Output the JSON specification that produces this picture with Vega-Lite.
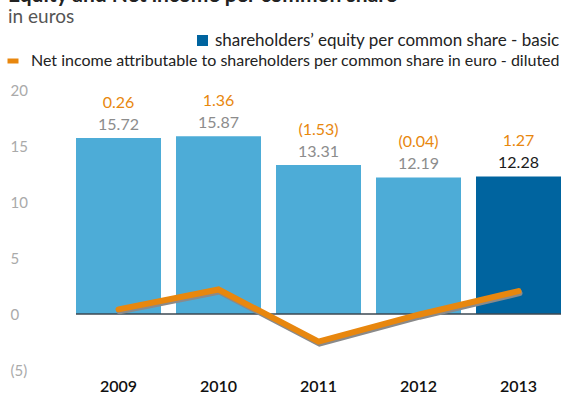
{
  "$schema": "https://vega.github.io/schema/vega-lite/v6.json",
  "width": 485,
  "height": 280,
  "autosize": {"type": "none"},
  "padding": {"left": 76, "top": 90, "right": 2, "bottom": 36},
  "background": "white",
  "config": {"font": "Lato", "view": {"stroke": null}},
  "title": {
    "text": "Equity and Net income per common share",
    "subtitle": "in euros",
    "anchor": "start",
    "frame": "group",
    "dx": -68,
    "offset": 5,
    "fontSize": 21,
    "fontWeight": "bold",
    "color": "#222222",
    "font": "Lato",
    "subtitleFont": "Lato",
    "subtitleFontSize": 19,
    "subtitleColor": "#555555",
    "subtitlePadding": 2
  },
  "data": {
    "values": [
      {"year": 2009, "eq": 15.72, "ni": 0.26},
      {"year": 2010, "eq": 15.87, "ni": 1.36},
      {"year": 2011, "eq": 13.31, "ni": -1.53},
      {"year": 2012, "eq": 12.19, "ni": -0.04},
      {"year": 2013, "eq": 12.28, "ni": 1.27}
    ]
  },
  "transform": [
    {"calculate": "datum.ni < 0 ? '(' + format(-datum.ni, '.2f') + ')' : format(datum.ni, '.2f')", "as": "niLabel"}
  ],
  "layer": [
    {
      "encoding": {
        "x": {
          "field": "year", "type": "ordinal",
          "scale": {"paddingInner": 0.15, "paddingOuter": 0},
          "axis": {"title": null, "labelAngle": 0, "ticks": false, "domain": false, "labelFontSize": 16, "labelFontWeight": 600, "labelColor": "#111111", "labelPadding": 8, "labelFont": "Lato"}
        },
        "y": {
          "field": "eq", "type": "quantitative",
          "scale": {"domain": [-5, 20], "nice": false, "zero": false},
          "axis": {"title": null, "values": [-5, 0, 5, 10, 15, 20], "labelExpr": "datum.value < 0 ? '(' + (-datum.value) + ')' : datum.label", "ticks": false, "domain": false, "grid": false, "labelAlign": "left", "labelPadding": 66, "labelColor": "#aaaaaa", "labelFontSize": 15, "labelFont": "Lato"}
        }
      },
      "layer": [
        {
          "mark": {"type": "bar"},
          "encoding": {
            "color": {
              "condition": {"test": "datum.year != 2013", "value": "#4DACD7"},
              "datum": "shareholders’ equity per common share - basic",
              "scale": {"range": ["#00649F"]},
              "legend": {"orient": "none", "legendX": 118, "legendY": -58, "title": null, "symbolType": "square", "symbolSize": 121, "symbolStrokeWidth": 0, "labelFontSize": 17, "labelColor": "#222222", "labelLimit": 600, "padding": 0, "labelOffset": 4, "labelFont": "Lato"}
            }
          }
        },
        {
          "mark": {"type": "text", "dy": -8, "baseline": "alphabetic", "fontSize": 16, "font": "Lato"},
          "encoding": {
            "text": {"field": "eq", "format": ".2f"},
            "color": {"condition": {"test": "datum.year == 2013", "value": "#1a1a1a"}, "value": "#8c8c8c"}
          }
        },
        {
          "mark": {"type": "text", "dy": -30, "baseline": "alphabetic", "fontSize": 16, "font": "Lato", "color": "#E8870E"},
          "encoding": {
            "text": {"field": "niLabel"}
          }
        }
      ]
    },
    {
      "data": {"values": [{"z": 0}]},
      "mark": {"type": "rule", "color": "#3d4852", "strokeWidth": 1.5},
      "encoding": {
        "y": {"field": "z", "type": "quantitative", "scale": {"domain": [-5, 20], "nice": false, "zero": false}, "axis": null}
      }
    },
    {
      "encoding": {
        "x": {"field": "year", "type": "ordinal"},
        "y": {"field": "ni", "type": "quantitative", "scale": {"domain": [-3.11, 12.44], "nice": false, "zero": false}, "axis": null}
      },
      "layer": [
        {
          "mark": {"type": "line", "color": "#8a8a8a", "strokeWidth": 6, "strokeCap": "round", "strokeJoin": "miter", "xOffset": 1, "yOffset": 2}
        },
        {
          "mark": {"type": "line", "strokeWidth": 6, "strokeCap": "round", "strokeJoin": "miter"},
          "encoding": {
            "stroke": {
              "datum": "Net income attributable to shareholders per common share in euro - diluted",
              "scale": {"range": ["#E8870E"]},
              "legend": {"orient": "none", "legendX": -71, "legendY": -37, "title": null, "symbolType": "stroke", "symbolSize": 121, "symbolStrokeWidth": 5, "labelFontSize": 16, "labelColor": "#222222", "labelLimit": 600, "padding": 0, "labelOffset": 10, "labelFont": "Lato"}
            }
          }
        }
      ]
    }
  ],
  "resolve": {"scale": {"y": "independent"}}
}
